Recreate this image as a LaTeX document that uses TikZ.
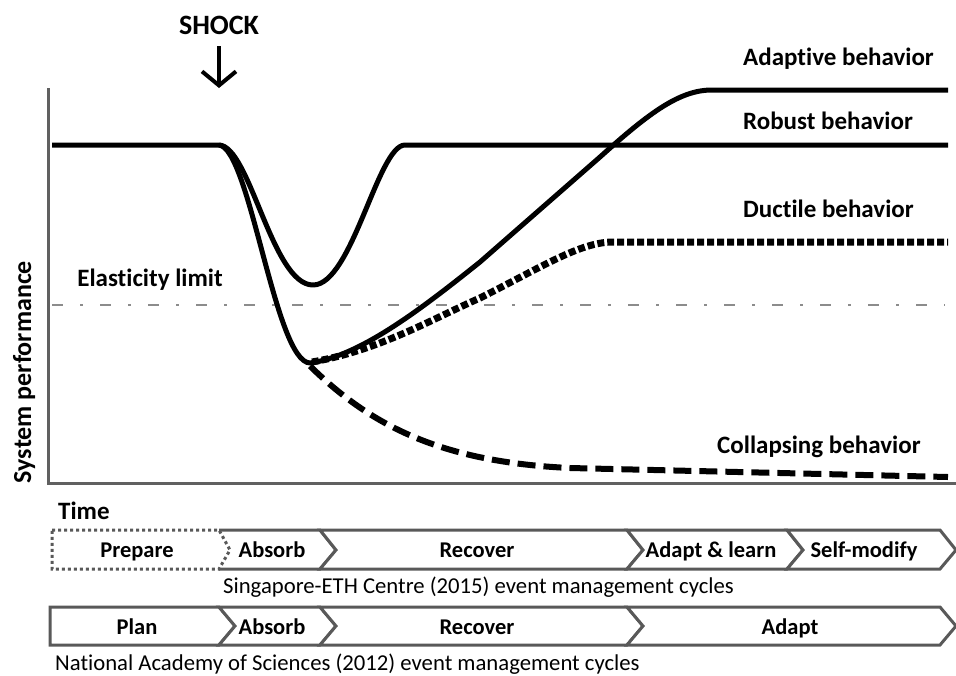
\documentclass[tikz,border=0pt]{standalone}
\usepackage{fontspec}
\setmainfont{Carlito}[Ligatures=NoCommon]
\usepackage{tikz}
\usetikzlibrary{positioning,calc,arrows.meta}

\begin{document}
\begin{tikzpicture}[x=1pt,y=-1pt,
		curve/.style={line width=5pt,line join=round},
		axis/.style={line width=3pt,draw=gray!75!black},
		lbl/.style={font=\bfseries\fontsize{25}{27}\selectfont,inner sep=0pt,text height=16pt,text depth=0pt},
		phase/.style={draw=gray!70!black,line width=3pt,fill=white,line join=miter},
		phtext/.style={font=\bfseries\fontsize{22.5}{24}\selectfont,inner sep=0pt,text height=14.5pt,text depth=0pt},
		caption/.style={font=\fontsize{22.7}{24}\selectfont,anchor=west,inner sep=0pt,text height=14.6pt,text depth=0pt}]
		\useasboundingbox (0,0) rectangle (956,675);
		% axes
		\coordinate (top) at (48,88);
		\coordinate (orig) at (48,483);
		\coordinate (tend) at (956,483);
		\draw[axis] (top) -- (orig) -- (tend);
		\node[lbl,rotate=90,font=\bfseries\fontsize{26}{28}\selectfont] (perf) at (23,372) {System performance};
		\node[lbl,anchor=west] (time) at (58,511) {Time};
		% shock
		\node[lbl,font=\bfseries\fontsize{28}{30}\selectfont,text height=18pt] (shock) at (219,25) {SHOCK};
		\coordinate (hit) at (219,88);
		\draw[line width=4pt,-{Straight Barb[length=14pt,width=34pt]},shorten <=12pt] (shock) -- (hit);
		% elasticity limit
		\draw[line width=2.5pt,black!45,dash pattern=on 11pt off 17pt on 3pt off 17pt] (52,305) -- (945,305);
		\node[lbl] (elast) at (150,278) {Elasticity limit};
		% collapsing
		\draw[curve,line width=6pt,dash pattern=on 18pt off 8pt] (310,366) .. controls (370,425) and (440,462) .. (570,468) -- (948,477);
		% ductile
		\draw[curve,line width=7pt,dash pattern=on 7pt off 3pt,line cap=butt] (312,362) .. controls (380,350) and (430,320) .. (480,298) .. controls (540,268) and (580,242) .. (613,242) -- (948,242);
		% robust
		\draw[curve] (52,145) -- (219,145) .. controls (250,146) and (272,285) .. (313,285) .. controls (352,285) and (378,145) .. (405,145) -- (948,145);
		% adaptive
		\draw[curve] (219,145) .. controls (250,148) and (275,362) .. (310,363) .. controls (360,356) and (420,310) .. (480,262) -- (600,157) .. controls (650,112) and (680,90) .. (712,90) -- (948,90);
		% behaviour labels
		\node[lbl,anchor=west] (adapt) at (743,57) {Adaptive behavior};
		\node[lbl,anchor=west] (robust) at (743,121) {Robust behavior};
		\node[lbl,anchor=west] (ductile) at (743,209) {Ductile behavior};
		\node[lbl,anchor=west] (collapse) at (717,445) {Collapsing behavior};
		% Singapore-ETH row
		\draw[phase] (219,530) -- (320,530) -- (336,550) -- (320,569) -- (219,569);
		\foreach \a/\b in {320/627,627/787,787/940}
			\draw[phase] (\a,530) -- (\b,530) -- (\b+16,550) -- (\b,569) -- (\a,569) -- (\a+16,550) -- cycle;
		\draw[draw=gray!70!black,line width=3pt,dash pattern=on 3pt off 3pt] (52,530) -- (219,530) -- (230,550) -- (219,569) -- (52,569) -- cycle;
		\node[phtext] (prep) at (137,550) {Prepare};
		\node[phtext] (abs1) at (272,550) {Absorb};
		\node[phtext] (rec1) at (477,550) {Recover};
		\node[phtext] (learn) at (711,550) {Adapt \& learn};
		\node[phtext] (selfmod) at (864,550) {Self-modify};
		\node[caption] (seth) at (223,586) {Singapore-ETH Centre (2015) event management cycles};
		% National Academy row
		\draw[phase] (50,607) -- (219,607) -- (235,626) -- (219,645) -- (50,645) -- cycle;
		\foreach \a/\b in {219/320,320/627,627/940}
			\draw[phase] (\a,607) -- (\b,607) -- (\b+16,626) -- (\b,645) -- (\a,645) -- (\a+16,626) -- cycle;
		\node[phtext] (plan) at (137,627) {Plan};
		\node[phtext] (abs2) at (272,627) {Absorb};
		\node[phtext] (rec2) at (477,627) {Recover};
		\node[phtext] (adpt) at (790,627) {Adapt};
		\node[caption] (nas) at (55,663) {National Academy of Sciences (2012) event management cycles};
	\end{tikzpicture}
\end{document}
